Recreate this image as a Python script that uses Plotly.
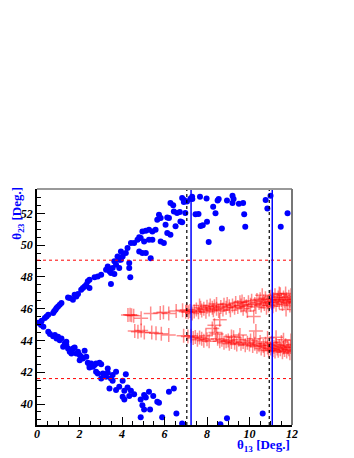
import plotly.graph_objects as go

# blue points (theta13, theta23)
blue_x = [0.14, 0.22, 0.37, 0.45, 0.53, 0.76, 0.81, 0.87, 0.92, 0.99, 1.07, 1.15, 1.46, 1.54, 1.69, 1.85, 1.77, 1.93,
          2.08, 2.16, 2.24, 2.32, 2.47, 2.39, 2.47, 2.71, 2.86, 3.02, 3.25, 3.33, 3.41, 3.48, 3.64, 3.48, 3.64, 3.72,
          3.56, 3.87, 3.95, 3.79, 3.87, 3.95, 4.03, 4.18, 4.26, 4.34, 4.34, 4.39, 4.42, 4.57, 4.73, 4.81, 4.88, 5.04,
          5.27, 5.43, 4.81, 4.96, 5.12, 5.35, 4.96, 5.12, 5.27, 5.43, 5.58, 5.66, 5.74, 5.82, 5.82, 5.97, 6.05, 6.13,
          6.28, 6.13, 6.21, 6.28, 6.41, 6.44, 6.59, 6.72, 6.52, 6.75, 6.83, 6.83, 6.91, 6.98, 7.06, 7.22,
          6.92, 7.31, 7.30, 7.46, 7.60, 7.67, 7.98, 7.70, 7.80, 8.00, 8.29, 8.40, 8.50, 8.55, 8.08, 8.70, 8.94, 9.20,
          9.25, 9.20, 9.50, 9.70, 9.75, 9.80, 10.76, 10.84, 10.99, 11.47, 11.79,
          0.06, 0.19, 0.30, 0.53, 0.61, 0.76, 0.84, 0.92, 0.99, 1.07, 1.15, 1.31, 1.38, 1.38, 1.23, 1.46, 1.62, 1.69,
          1.77, 1.54, 1.62, 1.85, 1.93, 2.01, 2.08, 2.24, 2.16, 2.01, 2.32, 2.39, 2.47, 2.55, 2.63, 2.71, 2.78, 2.94,
          3.02, 2.47, 2.78, 2.86, 3.10, 3.33, 3.33, 3.56, 3.72, 4.18, 3.02, 3.25, 3.48, 3.56, 4.03, 3.41, 3.72, 3.87,
          4.11, 4.26, 4.42, 4.03, 4.11, 4.34, 4.57, 4.88, 5.04, 5.12, 5.27, 5.47, 5.66, 5.74, 4.96, 5.04, 5.32, 4.88,
          6.21, 6.44, 5.89, 6.56, 6.83, 8.63, 8.94, 10.62]
blue_y = [45.09, 45.24, 45.41, 45.51, 45.62, 45.72, 45.83, 45.93, 46.04, 46.14, 46.25, 46.35, 46.71, 46.67, 46.56,
          46.77, 46.88, 46.92, 47.19, 47.30, 47.40, 47.51, 47.30, 47.72, 47.82, 47.97, 48.03, 48.14, 48.45, 48.66,
          48.35, 48.24, 48.18, 47.55, 48.98, 48.77, 48.56, 48.56, 49.08, 49.29, 49.08, 49.60, 49.29, 49.50, 49.81,
          48.87, 48.56, 47.97, 50.13, 50.13, 50.34, 50.49, 50.44, 50.23, 50.34, 50.34, 49.60, 49.50, 49.50, 49.18,
          50.86, 50.90, 50.97, 50.86, 50.97, 51.60, 51.91, 51.70, 50.23, 50.13, 51.28, 50.76, 50.65, 51.74, 51.70,
          52.65, 52.50, 52.12, 52.02, 52.08, 51.18, 51.49, 51.43, 52.96, 52.71, 52.02, 52.75, 52.92,
          52.84, 52.90, 53.05, 51.94, 51.95, 53.05, 52.94, 51.20, 51.25, 51.47, 52.42, 52.00, 52.80, 52.90, 50.20,
          51.05, 52.80, 53.10, 52.90, 52.65, 52.60, 52.65, 51.94, 51.16, 52.84, 52.30, 53.10, 51.16, 52.00,
          45.11, 44.97, 44.86, 44.55, 44.40, 44.27, 44.34, 44.13, 44.23, 44.02, 44.13, 43.81, 43.92, 43.71, 43.60,
          43.50, 43.39, 43.50, 43.56, 43.29, 43.18, 43.18, 43.29, 43.08, 42.97, 43.35, 42.87, 42.76, 42.97, 42.60,
          42.45, 42.55, 42.34, 42.45, 42.55, 42.60, 42.51, 42.30, 42.03, 41.92, 41.92, 41.97, 42.24, 41.82, 42.03,
          41.88, 41.61, 41.71, 41.61, 41.46, 41.46, 40.98, 40.88, 41.08, 40.83, 41.04, 40.83, 40.46, 40.29, 40.50,
          40.62, 40.29, 40.56, 40.41, 40.77, 40.50, 40.14, 40.08, 39.93, 39.66, 39.66, 39.16, 40.77, 40.98, 39.16,
          39.41, 38.78, 38.72, 39.10, 39.41]

# red crosses, upper band
red_up_x = [4.28, 4.38, 4.45, 4.55, 4.90, 5.35, 5.80, 5.95, 6.20, 6.55, 6.85, 7.00, 7.05, 7.12, 7.20, 7.30, 7.40,
            7.50, 7.60, 7.70, 7.75, 7.85, 7.95, 8.00, 8.10, 8.15, 8.25, 8.30, 8.35, 8.45, 8.55, 8.60, 8.65, 8.75,
            8.80, 8.90, 8.95, 9.05, 9.10, 9.20, 9.30, 9.35, 9.45, 9.55, 9.60, 9.70, 9.75, 9.85, 9.90, 9.95, 10.05,
            10.10, 10.20, 10.25, 10.30, 10.35, 10.45, 10.50, 10.55, 10.65, 10.70, 10.75, 10.85, 10.90, 10.95, 11.00,
            11.05, 11.10, 11.15, 11.20, 11.25, 11.30, 11.35, 11.40, 11.45, 11.50, 11.55, 11.60, 11.65, 11.70, 11.75,
            11.80, 11.85, 11.90, 11.95, 12.00, 12.05, 11.72, 10.60, 11.10, 10.80, 9.65, 8.45, 7.65, 11.90, 11.40]
red_up_y = [45.60, 45.62, 45.58, 45.55, 45.40, 45.70, 45.72, 45.78, 45.70, 45.85, 45.90, 45.80, 45.92, 45.78, 45.85,
            45.70, 45.82, 45.95, 45.78, 46.05, 45.88, 46.00, 45.80, 46.12, 45.95, 46.20, 46.05, 45.90, 46.15, 46.00,
            45.85, 45.30, 46.10, 45.95, 46.25, 46.05, 46.30, 46.15, 45.90, 46.20, 46.05, 46.35, 46.10, 46.40, 46.20,
            46.00, 46.30, 46.15, 45.85, 46.40, 46.25, 46.50, 45.50, 46.30, 46.10, 46.55, 46.35, 46.60, 46.20, 46.45,
            46.30, 46.65, 46.40, 46.20, 46.55, 46.75, 46.35, 46.60, 46.45, 46.85, 46.25, 46.55, 46.70, 46.40, 46.90,
            46.55, 46.30, 46.70, 46.45, 46.95, 46.60, 46.35, 46.75, 46.50, 46.85, 46.60, 46.40, 45.95, 46.85, 46.15,
            46.05, 46.45, 46.30, 46.20, 46.20, 46.95]

# red crosses, lower band
red_lo_x = [4.60, 4.75, 4.90, 5.05, 5.40, 5.60, 5.85, 6.20, 6.90, 7.10, 7.25, 7.35, 7.45, 7.55, 7.65, 7.75, 7.85,
            8.00, 8.10, 8.25, 8.35, 8.40, 8.45, 8.50, 8.60, 8.70, 8.80, 8.90, 9.00, 9.05, 9.15, 9.25, 9.30, 9.40,
            9.50, 9.55, 9.60, 9.70, 9.80, 9.90, 10.00, 10.05, 10.15, 10.25, 10.30, 10.35, 10.45, 10.50, 10.55,
            10.65, 10.70, 10.75, 10.85, 10.90, 10.95, 11.00, 11.05, 11.10, 11.15, 11.20, 11.25, 11.30, 11.35, 11.40,
            11.45, 11.50, 11.55, 11.60, 11.65, 11.70, 11.75, 11.80, 11.85, 11.90, 11.95, 12.00, 12.05, 11.25, 11.60,
            10.85, 11.95, 10.20, 9.15, 7.95]
red_lo_y = [44.60, 44.55, 44.62, 44.50, 44.50, 44.45, 44.42, 44.35, 44.30, 44.25, 44.30, 44.15, 44.22, 44.05, 44.18,
            44.10, 43.98, 44.08, 43.95, 44.75, 44.95, 44.50, 44.40, 44.10, 43.95, 44.05, 43.85, 43.95, 44.00, 43.80,
            43.90, 44.20, 43.85, 43.75, 44.05, 44.35, 43.80, 43.90, 43.70, 43.85, 43.75, 44.00, 43.65, 43.80, 44.60,
            43.60, 43.70, 43.90, 43.50, 43.65, 43.40, 43.80, 43.55, 43.35, 43.70, 43.50, 43.85, 43.40, 43.60, 43.30,
            43.75, 43.50, 43.35, 43.65, 43.45, 43.90, 43.25, 43.55, 43.40, 43.70, 43.30, 43.55, 43.45, 43.20, 43.60,
            43.35, 43.75, 44.20, 44.05, 44.15, 44.00, 44.10, 44.25, 44.30]

hlines_red = [49.05, 41.6]
vlines_black = [7.05, 10.93]
vlines_blue = [7.25, 11.07]

tfont = dict(family="Liberation Serif", size=12, color="black", weight="bold", style="italic")

fig = go.Figure()
fig.add_trace(go.Scatter(x=red_up_x + red_lo_x, y=red_up_y + red_lo_y, mode="markers",
                         marker=dict(symbol="cross-thin", size=10,
                                     line=dict(width=1.5, color="rgba(255,0,0,0.45)")),
                         showlegend=False))
fig.add_trace(go.Scatter(x=blue_x, y=blue_y, mode="markers",
                         marker=dict(color="#0000ff", size=6, line=dict(width=0)),
                         showlegend=False))

for h in hlines_red:
    fig.add_shape(type="line", xref="paper", x0=0, x1=1, y0=h, y1=h,
                  line=dict(color="red", width=1, dash="dot"))
for v in vlines_black:
    fig.add_shape(type="line", yref="paper", y0=0, y1=1, x0=v, x1=v,
                  line=dict(color="black", width=1.2, dash="dot"))
for v in vlines_blue:
    fig.add_shape(type="line", yref="paper", y0=0, y1=1, x0=v, x1=v,
                  line=dict(color="#0000ff", width=1.5))

# grey top / right frame
fig.add_shape(type="line", xref="paper", yref="paper", x0=0, x1=1, y0=1, y1=1,
              line=dict(color="#999999", width=2))
fig.add_shape(type="line", xref="paper", yref="paper", x0=1, x1=1, y0=0, y1=1,
              line=dict(color="#777777", width=2))

fig.update_xaxes(range=[0, 12], tickvals=[0, 2, 4, 6, 8, 10, 12], ticks="inside", ticklen=8,
                 tickcolor="black", tickfont=tfont, showline=True, linecolor="black", linewidth=1.5,
                 showgrid=False, zeroline=False, ticklabelstandoff=-3,
                 minor=dict(dtick=0.5, ticks="inside", ticklen=4, tickcolor="black"))
fig.update_yaxes(range=[38.68, 53.53], tickvals=[40, 42, 44, 46, 48, 50, 52], ticks="inside", ticklen=8,
                 tickcolor="black", tickfont=tfont, showline=True, linecolor="black", linewidth=1.5,
                 showgrid=False, zeroline=False,
                 minor=dict(dtick=0.5, ticks="inside", ticklen=4, tickcolor="black"))

title_font = dict(family="Liberation Serif", size=13, color="#0000ff", weight="bold")
fig.add_annotation(text="θ<sub>13</sub> [Deg.]", xref="paper", yref="paper", x=1.0, y=-0.085,
                   xanchor="right", yanchor="middle", showarrow=False, font=title_font)
fig.add_annotation(text="θ<sub>23</sub> [Deg.]", xref="paper", yref="paper", x=-0.075, y=1.02,
                   xanchor="center", yanchor="top", textangle=-90, showarrow=False, font=title_font)

# page body adds an 8px offset, so the figure is 8px smaller and margins are shifted
fig.update_layout(width=346, height=450, margin=dict(l=27, r=62, t=181, b=33),
                  plot_bgcolor="white", paper_bgcolor="white")

fig.write_html("out.html")
